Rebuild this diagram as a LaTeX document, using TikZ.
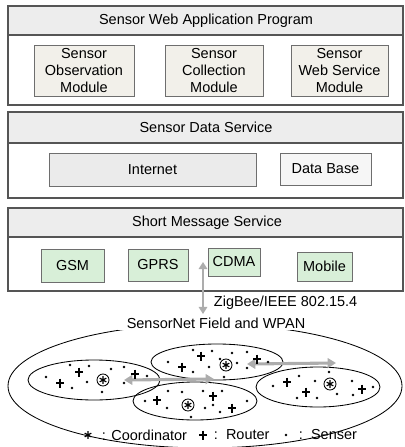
\documentclass[tikz,border=0pt]{standalone}
\usepackage{fontspec}
\setmainfont{Liberation Sans}
\usetikzlibrary{arrows.meta}
\definecolor{linegray}{HTML}{555555}
\definecolor{boxgray}{HTML}{6E6E6E}
\definecolor{headgray}{HTML}{EDEDED}
\definecolor{modbeige}{HTML}{F2F0EA}
\definecolor{netgray}{HTML}{EBEBEB}
\definecolor{dbgray}{HTML}{F6F6F6}
\definecolor{smsgreen}{HTML}{D8EFD8}
\definecolor{arrowgray}{HTML}{ADADAD}
\newcommand{\pxu}{0.025cm}
\newcommand{\sensor}[2]
{   \fill (#1,#2) circle (1.4);
}
\newcommand{\router}[2]
{   \draw[line width=0.8pt] (#1,#2) +(-4,0) -- +(4,0) (#1,#2) +(0,-4.5) -- +(0,4.5);
}
\newcommand{\coordstar}[2]
{   \draw[line width=0.8pt] (#1,#2) +(0,-3.8) -- +(0,3.8) (#1,#2) +(-3.3,-1.9) -- +(3.3,1.9) (#1,#2) +(-3.3,1.9) -- +(3.3,-1.9);
}
\tikzset{
  layer/.style={draw=linegray, line width=0.8pt, fill=white},
  layerhead/.style={draw=linegray, line width=0.8pt, fill=headgray},
  boxsize/.style 2 args={minimum width=#1*\pxu, minimum height=#2*\pxu},
  modbox/.style={draw=boxgray, line width=0.6pt, fill=modbeige, align=center, inner sep=0pt},
  smsbox/.style={draw=boxgray, line width=0.6pt, fill=smsgreen, inner sep=0pt},
  coordc/.style={circle, draw, line width=0.6pt, minimum size=12*\pxu, inner sep=0pt},
  linkarrow/.style={draw=arrowgray, line width=2.2pt, {Triangle[length=6pt,width=7pt]}-{Triangle[length=6pt,width=7pt]}},
  zigarrow/.style={draw=arrowgray, line width=1.6pt, {Triangle[length=5pt,width=6pt]}-{Triangle[length=5pt,width=6pt]}}
}

\begin{document}
\begin{tikzpicture}[x=0.025cm, y=-0.025cm, font=\fontsize{10.3}{11.8}\selectfont]
 \useasboundingbox (0,0) rectangle (405,447);

 % application layer
 \draw[layer] (8,6) rectangle (403,105);
 \draw[layerhead] (8,6) rectangle (403,35);
 \node (apptitle) at (206,20.5) {Sensor Web Application Program};
 \node[modbox, boxsize={100}{51}] (obsmod) at (84,70.5) {Sensor\\Observation\\Module};
 \node[modbox, boxsize={98}{51}] (colmod) at (214,70.5) {Sensor\\Collection\\Module};
 \node[modbox, boxsize={97}{51}] (webmod) at (339.5,70.5) {Sensor\\Web Service\\Module};

 % data service layer
 \draw[layer] (8,112) rectangle (403,198);
 \draw[layerhead] (8,112) rectangle (403,143);
 \node (datatitle) at (206,127.5) {Sensor Data Service};
 \node[modbox, fill=netgray, boxsize={207}{33}] (internet) at (152.5,169.5) {Internet};
 \node[modbox, fill=dbgray, boxsize={91}{32}] (database) at (325.5,169) {Data Base};

 % short message layer
 \draw[layer] (8,208) rectangle (403,291);
 \draw[layerhead] (8,208) rectangle (403,237);
 \node (smstitle) at (207,222.5) {Short Message Service};
 \node[smsbox, boxsize={63}{33}] (gsm) at (72.5,265.5) {GSM};
 \node[smsbox, boxsize={60}{32}] (gprs) at (158,265) {GPRS};
 \node[smsbox, boxsize={52}{28}] (cdma) at (234,262) {CDMA};
 \node[smsbox, boxsize={55}{29}] (mobile) at (324.5,266.5) {Mobile};

 \coordinate (zigtop) at (203,262);
 \coordinate (zigbot) at (203,314);
 \draw[zigarrow] (zigtop) -- (zigbot);
 \node[anchor=west] (zigbee) at (209,303) {ZigBee/IEEE 802.15.4};

 % sensor field
 \draw[line width=0.6pt] (205,386) ellipse (197 and 62);
 \node[fill=white, inner xsep=6pt, inner ysep=1pt] (field) at (216,323) {SensorNet Field and WPAN};
 \draw[line width=0.6pt] (94,380) ellipse (66 and 20);
 \draw[line width=0.6pt] (217,362) ellipse (66 and 18);
 \draw[line width=0.6pt] (195,401) ellipse (62 and 19);
 \draw[line width=0.6pt] (318,387) ellipse (62 and 20);

 \coordinate (linkal) at (124,380);
 \coordinate (linkar) at (214,379);
 \coordinate (linkbl) at (247,364);
 \coordinate (linkbr) at (336,363);
 \draw[linkarrow] (linkal) -- (linkar);
 \draw[linkarrow] (linkbl) -- (linkbr);

 \node[coordc] (coordA) at (103,380) {}; \coordstar{103}{380}
 \node[coordc] (coordB) at (226,365) {}; \coordstar{226}{365}
 \node[coordc] (coordC) at (188,405) {}; \coordstar{188}{405}
 \node[coordc] (coordD) at (330,384) {}; \coordstar{330}{384}

 \sensor{70}{365} \sensor{89}{366} \sensor{111}{369} \sensor{124}{367} \sensor{147}{376}
 \sensor{46}{377} \sensor{72}{388} \sensor{87}{382} \sensor{102}{392} \sensor{124}{383}
 \router{79}{372} \router{135}{374} \router{60}{383}

 \sensor{193}{350} \sensor{212}{351} \sensor{232}{353} \sensor{247}{352} \sensor{168}{362}
 \sensor{193}{372} \sensor{209}{367} \sensor{220}{359} \sensor{237}{363} \sensor{268}{362}
 \sensor{247}{368} \sensor{224}{377}
 \router{201}{356} \router{182}{367} \router{257}{359}

 \sensor{168}{391} \sensor{182}{392} \sensor{203}{391} \sensor{222}{391} \sensor{145}{401}
 \sensor{167}{408} \sensor{205}{408} \sensor{213}{405} \sensor{247}{401} \sensor{220}{412}
 \sensor{191}{417}
 \router{213}{396} \router{157}{400} \router{232}{408}

 \sensor{273}{386} \sensor{299}{376} \sensor{315}{381} \sensor{329}{372} \sensor{352}{381}
 \sensor{297}{398} \sensor{317}{398} \sensor{337}{394} \sensor{353}{395} \sensor{373}{387}
 \router{287}{382} \router{306}{392} \router{362}{389}

 % legend
 \coordstar{88}{435}
 \node[anchor=west] (legcoord) at (97,435) {: Coordinator};
 \router{203}{435}
 \node[anchor=west] (legrouter) at (209,435) {:\ \ Router};
 \sensor{286}{435}
 \node[anchor=west] (legsensor) at (294,435) {:\ \ Senser};

\end{tikzpicture}
\end{document}
